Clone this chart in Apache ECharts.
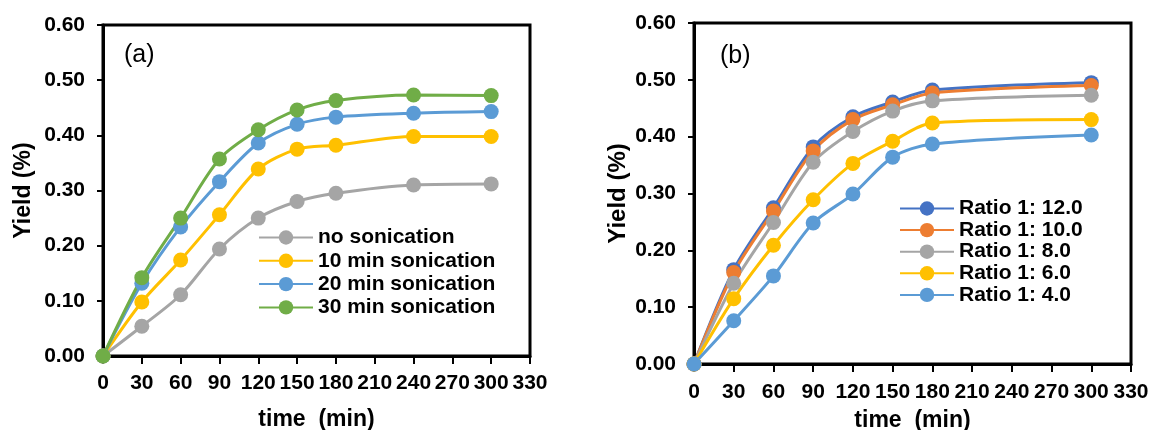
<!DOCTYPE html>
<html>
<head>
<meta charset="utf-8">
<script src="https://cdn.jsdelivr.net/npm/echarts@6/dist/echarts.min.js"></script>
<style>html,body{margin:0;padding:0;background:#fff}#c{width:1150px;height:430px}</style>
</head>
<body>
<div id="c"></div>
<script>
// ---- Data ----
const timeA = [0, 30, 60, 90, 120, 150, 180, 240, 300];
const noSonication = [0, 0.054, 0.111, 0.194, 0.250, 0.280, 0.295, 0.310, 0.312];
const son10 = [0, 0.098, 0.174, 0.256, 0.339, 0.375, 0.382, 0.398, 0.398];
const son20 = [0, 0.132, 0.234, 0.316, 0.386, 0.420, 0.433, 0.440, 0.443];
const son30 = [0, 0.142, 0.250, 0.357, 0.410, 0.446, 0.463, 0.473, 0.472];

const timeB = [0, 30, 60, 90, 120, 150, 180, 300];
const ratio12 = [0, 0.166, 0.275, 0.382, 0.435, 0.461, 0.482, 0.495];
const ratio10 = [0, 0.161, 0.269, 0.375, 0.430, 0.456, 0.477, 0.490];
const ratio8 = [0, 0.142, 0.249, 0.355, 0.409, 0.445, 0.463, 0.473];
const ratio6 = [0, 0.115, 0.209, 0.289, 0.353, 0.392, 0.424, 0.430];
const ratio4 = [0, 0.076, 0.155, 0.248, 0.299, 0.364, 0.387, 0.403];

const namesA = ['no sonication', '10 min sonication', '20 min sonication', '30 min sonication'];
const namesB = ['Ratio 1: 12.0', 'Ratio 1: 10.0', 'Ratio 1: 8.0', 'Ratio 1: 6.0', 'Ratio 1: 4.0'];
const xTicks = { min: 0, max: 330, interval: 30 };
const yTicks = { min: 0, max: 0.6, interval: 0.1 };

// ---- Chart ----
const FONT = '"Liberation Sans", Arial, sans-serif';
const pair = (xs, ys) => xs.map((x, i) => [x, ys[i]]);

function xAxis(gridIndex, nameGap, labelMargin) {
  return {
    gridIndex, type: 'value', min: xTicks.min, max: xTicks.max, interval: xTicks.interval,
    name: 'time  (min)', nameLocation: 'middle', nameGap,
    nameTextStyle: { fontFamily: FONT, fontWeight: 'bold', fontSize: 23, color: '#000' },
    axisLine: { show: true, lineStyle: { color: '#000', width: 3 } },
    axisTick: { show: true, inside: false, length: 8, lineStyle: { color: '#000', width: 2 } },
    axisLabel: { fontFamily: FONT, fontWeight: 'bold', fontSize: 21, color: '#000', margin: labelMargin, showMinLabel: true, showMaxLabel: true, hideOverlap: false },
    splitLine: { show: false }
  };
}
function yAxis(gridIndex, nameGap, fs) {
  return {
    gridIndex, type: 'value', min: yTicks.min, max: yTicks.max, interval: yTicks.interval,
    name: 'Yield (%)', nameLocation: 'middle', nameGap,
    nameTextStyle: { fontFamily: FONT, fontWeight: 'bold', fontSize: fs, color: '#000' },
    axisLine: { show: true, lineStyle: { color: '#000', width: 3 } },
    axisTick: { show: true, inside: false, length: 6, lineStyle: { color: '#000', width: 2 } },
    axisLabel: { fontFamily: FONT, fontWeight: 'bold', fontSize: 21, color: '#000', margin: 18, formatter: v => v.toFixed(2) },
    splitLine: { show: false }
  };
}
function line(name, xi, xs, ys, color, size) {
  return {
    name, type: 'line', xAxisIndex: xi, yAxisIndex: xi,
    data: pair(xs, ys), smooth: 0.3, symbol: 'circle', symbolSize: size,
    lineStyle: { color, width: 3 }, itemStyle: { color },
    emphasis: { disabled: true }
  };
}
const colorsA = ['#A5A5A5', '#FFC000', '#5B9BD5', '#70AD47'];
const colorsB = ['#4472C4', '#ED7D31', '#A5A5A5', '#FFC000', '#5B9BD5'];
const seriesA = [noSonication, son10, son20, son30].map((d, i) => line(namesA[i], 0, timeA, d, colorsA[i], 15));
const seriesB = [ratio12, ratio10, ratio8, ratio6, ratio4].map((d, i) => line(namesB[i], 1, timeB, d, colorsB[i], 15));

const legendText = { fontFamily: FONT, fontWeight: 'bold', fontSize: 21, color: '#000' };
const option = {
  animation: false,
  backgroundColor: '#fff',
  grid: [
    { left: 103, top: 25, width: 427, height: 331, outerBoundsMode: 'none', containLabel: false, show: true, borderColor: '#000', borderWidth: 3, backgroundColor: '#fff' },
    { left: 694, top: 23, width: 437, height: 341, outerBoundsMode: 'none', containLabel: false, show: true, borderColor: '#000', borderWidth: 3, backgroundColor: '#fff' }
  ],
  xAxis: [xAxis(0, 52, 17), xAxis(1, 45, 18)],
  yAxis: [yAxis(0, 68, 23), yAxis(1, 64, 24)],
  legend: [
    { data: namesA, orient: 'vertical', left: 258, top: 227, padding: 0, itemWidth: 54, itemHeight: 18, itemGap: 2.3, textStyle: legendText, selectedMode: false },
    { data: namesB, orient: 'vertical', left: 899, top: 198, padding: 0, itemWidth: 54, itemHeight: 18, itemGap: 0.6, textStyle: legendText, selectedMode: false }
  ],
  title: [
    { text: '(a)', left: 124, top: 43, textStyle: { fontFamily: FONT, fontWeight: 'normal', fontSize: 25, color: '#000' }, padding: 0 },
    { text: '(b)', left: 720, top: 44, textStyle: { fontFamily: FONT, fontWeight: 'normal', fontSize: 25, color: '#000' }, padding: 0 }
  ],
  series: seriesA.concat(seriesB)
};
const chart = echarts.init(document.getElementById('c'), null, { renderer: 'canvas' });
chart.setOption(option);
</script>
</body>
</html>
